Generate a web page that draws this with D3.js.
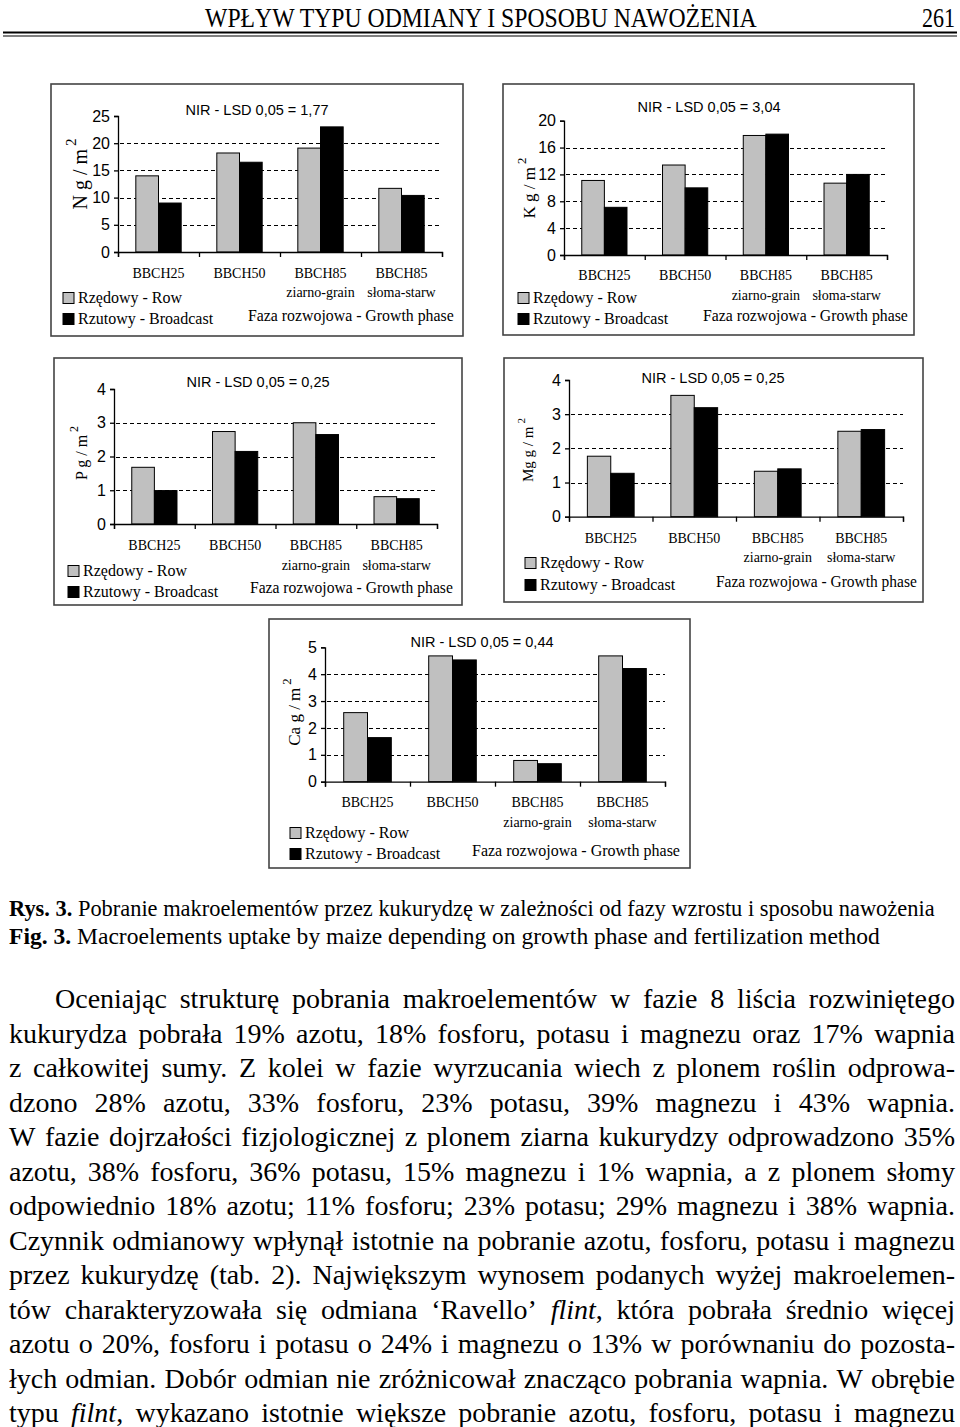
<!DOCTYPE html>
<html>
<head>
<meta charset="utf-8">
<script src="https://cdn.jsdelivr.net/npm/d3@7/dist/d3.min.js"></script>
<style>
html,body{margin:0;padding:0;background:#fff;}
svg{display:block;}
</style>
</head>
<body>
<svg id="page" width="960" height="1427"></svg>
<script>
// ---------- DATA ----------
const categories = ["BBCH25", "BBCH50", "BBCH85", "BBCH85"];
const categorySub = ["", "", "ziarno-grain", "słoma-starw"];
const seriesNames = ["Rzędowy - Row", "Rzutowy - Broadcast"];
const xTitle = "Faza rozwojowa - Growth phase";

const nRow = [14.0, 18.2, 19.1, 11.7];
const nBroadcast = [9.0, 16.5, 23.0, 10.4];
const kRow = [11.1, 13.4, 17.8, 10.7];
const kBroadcast = [7.1, 10.0, 18.0, 12.0];
const pRow = [1.68, 2.74, 3.0, 0.81];
const pBroadcast = [0.99, 2.15, 2.65, 0.75];
const mgRow = [1.77, 3.55, 1.33, 2.50];
const mgBroadcast = [1.27, 3.19, 1.40, 2.55];
const caRow = [2.57, 4.68, 0.79, 4.68];
const caBroadcast = [1.64, 4.53, 0.67, 4.21];

const nTicks = [0, 5, 10, 15, 20, 25];
const kTicks = [0, 4, 8, 12, 16, 20];
const pTicks = [0, 1, 2, 3, 4];
const mgTicks = [0, 1, 2, 3, 4];
const caTicks = [0, 1, 2, 3, 4, 5];

const lsdTitles = ["NIR - LSD 0,05 = 1,77", "NIR - LSD 0,05 = 3,04", "NIR - LSD  0,05 = 0,25", "NIR - LSD 0,05 = 0,25", "NIR - LSD 0,05 = 0,44"];
const yLabels = ["N g / m", "K g / m", "P g / m", "Mg g / m", "Ca g / m"];

const headerText = "WPŁYW TYPU ODMIANY I SPOSOBU NAWOŻENIA";
const pageNumber = "261";
const captionPl = ["Rys. 3.", " Pobranie makroelementów przez kukurydzę w zależności od fazy wzrostu i sposobu nawożenia"];
const captionEn = ["Fig. 3.", " Macroelements uptake by maize depending on growth phase and fertilization method"];
const bodyLines = [
  "Oceniając strukturę pobrania makroelementów w fazie 8 liścia rozwiniętego",
  "kukurydza pobrała 19% azotu, 18% fosforu, potasu i magnezu oraz 17% wapnia",
  "z całkowitej sumy. Z kolei w fazie wyrzucania wiech z plonem roślin odprowa-",
  "dzono 28% azotu, 33% fosforu, 23% potasu, 39% magnezu i 43% wapnia.",
  "W fazie dojrzałości fizjologicznej z plonem ziarna kukurydzy odprowadzono 35%",
  "azotu, 38% fosforu, 36% potasu, 15% magnezu i 1% wapnia, a z plonem słomy",
  "odpowiednio 18% azotu; 11% fosforu; 23% potasu; 29% magnezu i 38% wapnia.",
  "Czynnik odmianowy wpłynął istotnie na pobranie azotu, fosforu, potasu i magnezu",
  "przez kukurydzę (tab. 2). Największym wynosem podanych wyżej makroelemen-",
  "tów charakteryzowała się odmiana ‘Ravello’ _flint_, która pobrała średnio więcej",
  "azotu o 20%, fosforu i potasu o 24% i magnezu o 13% w porównaniu do pozosta-",
  "łych odmian. Dobór odmian nie zróżnicował znacząco pobrania wapnia. W obrębie",
  "typu _filnt_, wykazano istotnie większe pobranie azotu, fosforu, potasu i magnezu"
];

// ---------- LAYOUT ----------
const svg = d3.select("#page");
const SERIF = "'Liberation Serif', 'Times New Roman', serif";
const SANS = "'Liberation Sans', Arial, sans-serif";

const charts = [
  {row: nRow, br: nBroadcast, ticks: nTicks, frame: [51, 84, 463, 336], x0: 118, x1: 442, yB: 252, yT: 116,
   titleX: 257, titleY: 115, yl: {x: 87, y: 174, fs: 20}, cat1: 278, cat2: 297, legX: 63, leg1: 298, leg2: 319,
   faza: [248, 454], fazaY: 321},
  {row: kRow, br: kBroadcast, ticks: kTicks, frame: [503, 84, 914, 335], x0: 564, x1: 887, yB: 255, yT: 120.7,
   titleX: 709, titleY: 112, yl: {x: 535, y: 188, fs: 17}, cat1: 280, cat2: 300, legX: 518, leg1: 298, leg2: 319,
   faza: [703, 908], fazaY: 321},
  {row: pRow, br: pBroadcast, ticks: pTicks, frame: [54, 358, 462, 605], x0: 114, x1: 437, yB: 524, yT: 389,
   titleX: 258, titleY: 387, yl: {x: 87, y: 453, fs: 16}, cat1: 550, cat2: 570, legX: 68, leg1: 571, leg2: 592,
   faza: [250, 453], fazaY: 593},
  {row: mgRow, br: mgBroadcast, ticks: mgTicks, frame: [504, 358, 923, 602], x0: 569, x1: 903, yB: 516.7, yT: 380,
   titleX: 713, titleY: 383, yl: {x: 533, y: 450, fs: 15}, cat1: 543, cat2: 562, legX: 525, leg1: 563, leg2: 585,
   faza: [716, 917], fazaY: 587},
  {row: caRow, br: caBroadcast, ticks: caTicks, frame: [269, 619, 690, 868], x0: 325, x1: 665, yB: 781.7, yT: 647.3,
   titleX: 482, titleY: 647, yl: {x: 300, y: 712, fs: 17}, cat1: 807, cat2: 827, legX: 290, leg1: 833, leg2: 854,
   faza: [472, 680], fazaY: 856}
];

// helper: draw a text and squeeze it horizontally to a target width via transform
function fitText(parent, x, yb, width, build, attrs) {
  const t = parent.append("text").attr("x", 0).attr("y", 0);
  Object.entries(attrs).forEach(([k, v]) => t.attr(k, v));
  build(t);
  const natural = t.node().getComputedTextLength();
  const s = width / natural;
  t.attr("transform", `translate(${x},${yb}) scale(${s},1)`);
  return t;
}

charts.forEach((c, i) => {
  const g = svg.append("g");
  const [fx0, fy0, fx1, fy1] = c.frame;
  g.append("rect").attr("x", fx0).attr("y", fy0).attr("width", fx1 - fx0).attr("height", fy1 - fy0)
    .attr("fill", "#fff").attr("stroke", "#444").attr("stroke-width", 1.6);

  const maxV = c.ticks[c.ticks.length - 1];
  const y = d3.scaleLinear().domain([0, maxV]).range([c.yB, c.yT]);
  const x = d3.scaleBand().domain(d3.range(categories.length)).range([c.x0, c.x1]).padding(0);
  const bw = x.bandwidth() * 0.28;

  // gridlines
  g.append("g").selectAll("line").data(c.ticks.filter(t => t > 0 && t < maxV)).join("line")
    .attr("x1", c.x0 + 2).attr("x2", c.x1).attr("y1", d => Math.round(y(d)) + 0.5).attr("y2", d => Math.round(y(d)) + 0.5)
    .attr("stroke", "#000").attr("stroke-width", 1.2).attr("stroke-dasharray", "4,3");

  // bars
  const bars = g.append("g");
  bars.selectAll("rect.row").data(c.row).join("rect")
    .attr("x", (d, j) => x(j) + x.bandwidth() / 2 - bw).attr("width", bw)
    .attr("y", d => y(d)).attr("height", d => y(0) - y(d))
    .attr("fill", "#c0c0c0").attr("stroke", "#000").attr("stroke-width", 1);
  bars.selectAll("rect.br").data(c.br).join("rect")
    .attr("x", (d, j) => x(j) + x.bandwidth() / 2).attr("width", bw)
    .attr("y", d => y(d)).attr("height", d => y(0) - y(d))
    .attr("fill", "#000").attr("stroke", "#000").attr("stroke-width", 1);

  // y axis
  const ya = d3.axisLeft(y).tickValues(c.ticks).tickSize(4).tickPadding(4).tickFormat(d3.format("d"));
  const yg = g.append("g").attr("transform", `translate(${c.x0},0)`).call(ya);
  yg.select(".domain").attr("stroke", "#000").attr("stroke-width", 1.3);
  yg.selectAll(".tick line").attr("stroke", "#000").attr("stroke-width", 1.3);
  yg.selectAll(".tick text").attr("font-family", SANS).attr("font-size", 16).attr("fill", "#000");

  // x axis with boundary ticks
  const bounds = d3.range(categories.length + 1).map(j => c.x0 + j * x.step());
  const xa = d3.axisBottom(d3.scaleLinear().domain([c.x0, c.x1]).range([c.x0, c.x1]))
    .tickValues(bounds).tickSize(5).tickFormat("");
  const xg = g.append("g").attr("transform", `translate(0,${c.yB})`).call(xa);
  xg.select(".domain").attr("stroke", "#000").attr("stroke-width", 1.3);
  xg.selectAll(".tick line").attr("stroke", "#000").attr("stroke-width", 1.3);

  // category labels
  g.append("g").selectAll("text").data(categories).join("text")
    .attr("x", (d, j) => x(j) + x.bandwidth() / 2).attr("y", c.cat1)
    .attr("text-anchor", "middle").attr("font-family", SERIF).attr("font-size", 14).text(d => d);
  g.append("g").selectAll("text").data(categorySub).join("text")
    .attr("x", (d, j) => x(j) + x.bandwidth() / 2).attr("y", c.cat2)
    .attr("text-anchor", "middle").attr("font-family", SERIF).attr("font-size", 14).text(d => d);

  // title
  g.append("text").attr("x", c.titleX).attr("y", c.titleY).attr("text-anchor", "middle")
    .attr("font-family", SANS).attr("font-size", 14.5).text(lsdTitles[i]);

  // y label
  const yl = g.append("text").attr("transform", `translate(${c.yl.x},${c.yl.y}) rotate(-90)`)
    .attr("text-anchor", "middle").attr("font-family", SERIF).attr("font-size", c.yl.fs);
  yl.append("tspan").text(yLabels[i]);
  yl.append("tspan").attr("dx", 3).attr("dy", -c.yl.fs * 0.55).attr("font-size", c.yl.fs * 0.75).text("2");

  // legend
  const leg = g.append("g");
  [c.leg1, c.leg2].forEach((ly, k) => {
    leg.append("rect").attr("x", c.legX).attr("y", ly - 5.5).attr("width", 11).attr("height", 11)
      .attr("fill", k === 0 ? "#c0c0c0" : "#000").attr("stroke", "#000").attr("stroke-width", 1);
    leg.append("text").attr("x", c.legX + 15).attr("y", ly + 5).attr("font-family", SERIF).attr("font-size", 16)
      .text(seriesNames[k]);
  });
  fitText(g, c.faza[0], c.fazaY, c.faza[1] - c.faza[0], t => t.text(xTitle),
    {"font-family": SERIF, "font-size": 16});
});

// ---------- HEADER ----------
fitText(svg, 205, 27, 552, t => t.text(headerText), {"font-family": SERIF, "font-size": 27});
fitText(svg, 922, 27, 33, t => t.text(pageNumber), {"font-family": SERIF, "font-size": 27});
svg.append("rect").attr("x", 3).attr("y", 31.5).attr("width", 954).attr("height", 2).attr("fill", "#000");
svg.append("rect").attr("x", 3).attr("y", 35.5).attr("width", 954).attr("height", 1).attr("fill", "#000");

// ---------- CAPTION ----------
function caption(parts, yb, width) {
  fitText(svg, 9, yb, width, t => {
    t.append("tspan").attr("font-weight", "bold").text(parts[0]);
    t.append("tspan").text(parts[1]);
  }, {"font-family": SERIF, "font-size": 23.5});
}
caption(captionPl, 916, 926);
caption(captionEn, 944, 871);

// ---------- BODY (justified) ----------
const FS = 28;
function parseWord(w) {
  const segs = [];
  const re = /_([^_]+)_/g;
  let last = 0, m;
  while ((m = re.exec(w)) !== null) {
    if (m.index > last) segs.push({t: w.slice(last, m.index), it: false});
    segs.push({t: m[1], it: true});
    last = m.index + m[0].length;
  }
  if (last < w.length) segs.push({t: w.slice(last), it: false});
  return segs;
}
function makeWord(parent, segs) {
  const t = parent.append("text").attr("font-family", SERIF).attr("font-size", FS);
  segs.forEach(s => t.append("tspan").attr("font-style", s.it ? "italic" : "normal").text(s.t));
  return t;
}
bodyLines.forEach((line, li) => {
  const xs = li === 0 ? 55 : 9, xe = 955;
  const yb = 1008 + li * 34.5;
  const g = svg.append("g");
  const words = line.split(" ").map(parseWord);
  const nodes = words.map(segs => makeWord(g, segs));
  const widths = nodes.map(n => n.node().getComputedTextLength());
  const total = d3.sum(widths);
  const W = xe - xs;
  let gap = (W - total) / (words.length - 1);
  let scale = 1;
  const minGap = FS * 0.24;
  if (gap < minGap) {
    gap = minGap;
    scale = (W - gap * (words.length - 1)) / total;
  }
  let cx = xs;
  nodes.forEach((n, k) => {
    const w = widths[k] * scale;
    n.attr("x", 0).attr("y", 0).attr("transform", `translate(${cx},${yb}) scale(${scale},1)`);
    cx += w + gap;
  });
});
</script>
</body>
</html>
